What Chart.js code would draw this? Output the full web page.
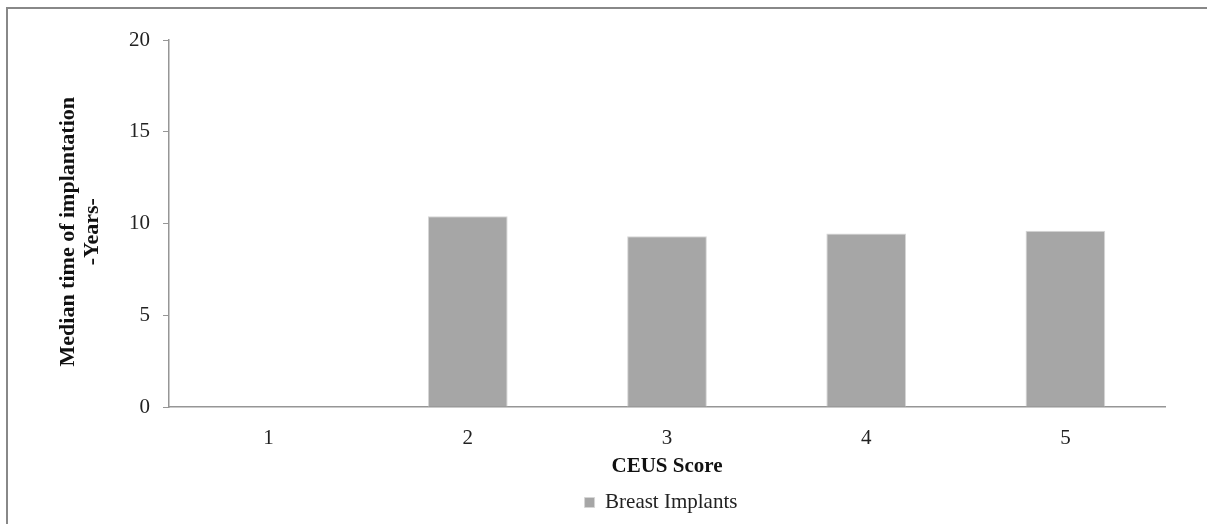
<!DOCTYPE html>
<html>
<head>
<meta charset="utf-8">
<script src="https://cdn.jsdelivr.net/npm/chart.js@4"></script>
<style>
    html, body { margin: 0; padding: 0; background: #fff; }
    #frame {
        position: absolute;
        left: 6px;
        top: 7px;
        width: 1220px;
        height: 540px;
        border-left: 2px solid #888;
        border-top: 2px solid #888;
    }
    #wrap { position: absolute; left: 0; top: 0; width: 1207px; height: 524px; }
</style>
</head>
<body>
<div id="frame"></div>
<div id="wrap"><canvas id="chart" width="1207" height="524"></canvas></div>
<script>
// CEUS score categories and median implantation time (years)
const scores = ["1", "2", "3", "4", "5"];
const medianYears = [null, 10.4, 9.3, 9.45, 9.6];
const yTicks = [0, 5, 10, 15, 20];
const seriesName = "Breast Implants";

const serif = "'Liberation Serif', 'Times New Roman', serif";
const axisColor = "#969696";
const pad = "\u00a0\u00a0\u00a0"; // nudges the rotated title a bit lower

// legend sits under the plot area, not under the whole canvas
const legendShift = {
    id: "legendShift",
    afterLayout(chart) {
        const lg = chart.legend;
        const dx = (chart.chartArea.left + chart.chartArea.right) / 2 - (lg.left + lg.right) / 2 - 6;
        lg.left += dx;
        lg.right += dx;
    },
};

new Chart(document.getElementById("chart"), {
    type: "bar",
    data: {
        labels: scores,
        datasets: [
            {
                label: seriesName,
                data: medianYears,
                backgroundColor: "#a6a6a6",
                borderColor: "#d6d6d6",
                borderWidth: 1,
                barPercentage: 0.4,
                categoryPercentage: 1,
            },
        ],
    },
    plugins: [legendShift],
    options: {
        responsive: false,
        animation: false,
        layout: { padding: { left: 52, right: 42, top: 40, bottom: 1 } },
        plugins: {
            tooltip: { enabled: false },
            legend: {
                position: "bottom",
                labels: {
                    boxWidth: 10,
                    boxHeight: 10,
                    color: "#222",
                    padding: 4,
                    font: { family: serif, size: 21 },
                },
            },
        },
        scales: {
            x: {
                afterFit: (scale) => {
                    scale.height = 81;
                },
                grid: { display: false, drawTicks: false },
                border: { display: true, color: axisColor, width: 1.5 },
                ticks: {
                    color: "#222",
                    padding: 19,
                    font: { family: serif, size: 21 },
                },
                title: {
                    display: true,
                    text: "CEUS Score",
                    color: "#111",
                    padding: { top: 0, bottom: 9 },
                    font: { family: serif, size: 21, weight: "bold" },
                },
            },
            y: {
                min: 0,
                max: 20,
                afterBuildTicks: (scale) => {
                    scale.ticks = yTicks.map((v) => ({ value: v }));
                },
                afterFit: (scale) => {
                    scale.width = 169 - 52;
                },
                grid: {
                    display: true,
                    drawOnChartArea: false,
                    drawTicks: true,
                    tickLength: 6,
                    color: axisColor,
                },
                border: { display: true, color: axisColor, width: 1.5 },
                ticks: {
                    color: "#222",
                    padding: 13,
                    font: { family: serif, size: 21 },
                },
                title: {
                    display: true,
                    text: ["Median time of implantation" + pad, "-Years-" + pad],
                    color: "#111",
                    padding: { top: 4, bottom: 0 },
                    font: { family: serif, size: 22, weight: "bold", lineHeight: 1.1 },
                },
            },
        },
    },
});
</script>
</body>
</html>
